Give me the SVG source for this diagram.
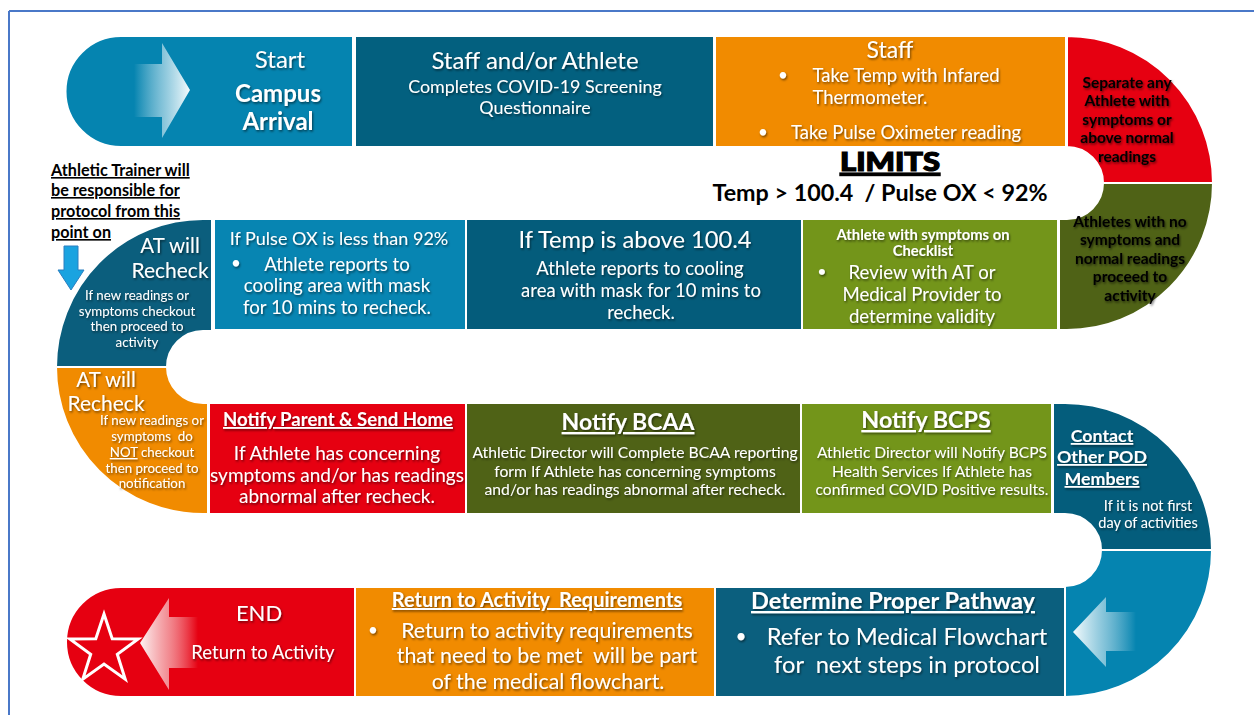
<svg xmlns="http://www.w3.org/2000/svg" width="1254" height="715" viewBox="0 0 1254 715">
<defs>
<style>
text{font-family:Lato,"Open Sans","Liberation Sans",sans-serif;text-anchor:middle;white-space:pre;}
.w{fill:#fff;filter:url(#sh);}
.k{fill:#000;font-weight:bold;filter:url(#shk);}
.b{font-weight:bold;}
.u{text-decoration:underline;}
.cell{stroke:#fff;stroke-width:2;}
</style>
<filter id="sh" x="-10%" y="-30%" width="120%" height="160%"><feDropShadow dx="1" dy="1.5" stdDeviation="1" flood-color="#000" flood-opacity="0.55"/></filter>
<filter id="shk" x="-10%" y="-30%" width="120%" height="160%"><feDropShadow dx="1" dy="1.5" stdDeviation="1.2" flood-color="#000" flood-opacity="0.6"/></filter>
<linearGradient id="gR" x1="0" y1="0" x2="1" y2="0"><stop offset="0" stop-color="#fff" stop-opacity="0"/><stop offset="0.5" stop-color="#d6ecf4" stop-opacity="0.6"/><stop offset="1" stop-color="#f4fbfd"/></linearGradient>
<linearGradient id="gL" x1="1" y1="0" x2="0" y2="0"><stop offset="0" stop-color="#fff" stop-opacity="0"/><stop offset="0.5" stop-color="#d6ecf4" stop-opacity="0.6"/><stop offset="1" stop-color="#f4fbfd"/></linearGradient>
<linearGradient id="gLr" x1="1" y1="0" x2="0" y2="0"><stop offset="0" stop-color="#fff" stop-opacity="0"/><stop offset="0.5" stop-color="#f7c6c8" stop-opacity="0.7"/><stop offset="1" stop-color="#fdf3f3"/></linearGradient>
</defs>
<rect width="1254" height="715" fill="#fff"/>
<g id="frame" fill="none" stroke="#4a78c8" stroke-width="2">
<line x1="9" y1="11" x2="1254" y2="11"/>
<line x1="9" y1="11" x2="9" y2="715"/>
</g>

<g id="connectors"></g>

<!-- Row 1 -->
<g id="start">
<path class="cell" d="M121,36 L353,36 L353,147 L121,147 A55.5,55.5 0 0 1 121,36 Z" fill="#0584b0"/>
<path d="M134,64 L162,64 L162,43 L190,90 L162,138 L162,117 L134,117 Z" fill="url(#gR)"/>
<text class="w" x="280" y="68" font-size="24">Start</text>
<text class="w b" x="278" y="102" font-size="24">Campus</text>
<text class="w b" x="278" y="130" font-size="24">Arrival</text>
</g>
<g id="questionnaire">
<rect class="cell" x="355" y="36" width="359" height="111" fill="#03607f"/>
<text class="w" x="535" y="69" font-size="24">Staff and/or Athlete</text>
<text class="w" x="535" y="93" font-size="17.9">Completes COVID-19 Screening</text>
<text class="w" x="535" y="114" font-size="17.9">Questionnaire</text>
</g>
<g id="staff">
<rect class="cell" x="715" y="36" width="351" height="111" fill="#f18b00"/>
<text class="w" x="890" y="58" font-size="23">Staff</text>
<text class="w" x="783" y="81" font-size="17">•</text>
<text class="w" x="906" y="82" font-size="18.5">Take Temp with Infared</text>
<text class="w" x="870" y="104" font-size="18.5">Thermometer.</text>
<text class="w" x="763" y="138" font-size="17">•</text>
<text class="w" x="906" y="139" font-size="18.5">Take Pulse Oximeter reading</text>
</g>
<g id="separate">
<path class="cell" d="M1067,36 A146,147 0 0 1 1213,183 L1103,183 A36,36 0 0 0 1067,147 Z" fill="#e60011"/>
<text class="k" x="1127" y="88" font-size="15.5">Separate any</text>
<text class="k" x="1127" y="106" font-size="15.5">Athlete with</text>
<text class="k" x="1127" y="125" font-size="15.5">symptoms or</text>
<text class="k" x="1127" y="143" font-size="15.5">above normal</text>
<text class="k" x="1127" y="162" font-size="15.5">readings</text>
</g>
<g id="limits">
<text x="890" y="171" font-size="26" textLength="100" lengthAdjust="spacingAndGlyphs" font-family="'Liberation Sans',sans-serif" font-weight="900" class="u" fill="#000" stroke="#000" stroke-width="1.2">LIMITS</text>
<text x="880" y="201" font-size="23.3" font-weight="bold" fill="#000">Temp &gt; 100.4  / Pulse OX &lt; 92%</text>
</g>

<!-- Row 2 -->
<g id="no-symptoms">
<path class="cell" d="M1059,219 L1067,219 A36,36 0 0 0 1103,183 L1213,183 A146,147 0 0 1 1067,330 L1059,330 Z" fill="#4f6216"/>
<text class="k" x="1130" y="227" font-size="15.5">Athletes with no</text>
<text class="k" x="1130" y="245" font-size="15.5">symptoms and</text>
<text class="k" x="1130" y="264" font-size="15.5">normal readings</text>
<text class="k" x="1130" y="282" font-size="15.5">proceed to</text>
<text class="k" x="1130" y="301" font-size="15.5">activity</text>
</g>
<g id="checklist">
<rect class="cell" x="802" y="219" width="256" height="111" fill="#73951a"/>
<text class="w b" x="923" y="240" font-size="14.8">Athlete with symptoms on</text>
<text class="w b" x="923" y="256" font-size="14.8">Checklist</text>
<text class="w" x="822" y="277" font-size="16">•</text>
<text class="w" x="922" y="279" font-size="18.6">Review with AT or</text>
<text class="w" x="922" y="301" font-size="18.6">Medical Provider to</text>
<text class="w" x="922" y="323" font-size="18.6">determine validity</text>
</g>
<g id="temp">
<rect class="cell" x="466" y="219" width="336" height="111" fill="#045c7b"/>
<text class="w" x="635" y="248" font-size="23.7">If Temp is above 100.4</text>
<text class="w" x="640" y="275" font-size="18.5">Athlete reports to cooling</text>
<text class="w" x="641" y="297" font-size="18.5">area with mask for 10 mins to</text>
<text class="w" x="641" y="319" font-size="18.5">recheck.</text>
</g>
<g id="pulse">
<rect class="cell" x="214" y="219" width="252" height="111" fill="#0785b2"/>
<text class="w" x="339" y="245" font-size="18">If Pulse OX is less than 92%</text>
<text class="w" x="236" y="269" font-size="17">•</text>
<text class="w" x="337" y="271" font-size="18.7">Athlete reports to</text>
<text class="w" x="337" y="292" font-size="18.7">cooling area with mask</text>
<text class="w" x="337" y="314" font-size="18.7">for 10 mins to recheck.</text>
</g>
<g id="at-recheck-1">
<path class="cell" d="M212,219 L203,219 A147,148 0 0 0 56,367 L167,367 A36,36 0 0 1 203,331 L212,331 Z" fill="#0b5e7d"/>
<text class="w" x="170" y="253" font-size="20.5">AT will</text>
<text class="w" x="170" y="278" font-size="21">Recheck</text>
<text class="w" x="137" y="300" font-size="13.3">If new readings or</text>
<text class="w" x="137" y="316" font-size="13.3">symptoms checkout</text>
<text class="w" x="137" y="331" font-size="13.3">then proceed to</text>
<text class="w" x="137" y="347" font-size="13.3">activity</text>
</g>
<g id="trainer-note">
<g font-size="16.2" font-weight="bold" fill="#000" class="u">
<text x="51" y="176" style="text-anchor:start">Athletic Trainer will</text>
<text x="51" y="196" style="text-anchor:start">be responsible for</text>
<text x="51" y="217" style="text-anchor:start">protocol from this</text>
<text x="51" y="238" style="text-anchor:start">point on</text>
</g>
<path d="M64,246 L78,246 L78,270 L84,270 L71,290 L58,270 L64,270 Z" fill="#1aa3e0" stroke="#2a7fc0" stroke-width="1"/>
</g>

<!-- Row 3 -->
<g id="at-recheck-2">
<path class="cell" d="M56,367 A147,147 0 0 0 203,514 L208,514 L208,403 L203,403 A36,36 0 0 1 167,367 Z" fill="#f18b00"/>
<text class="w" x="106" y="387" font-size="20.5">AT will</text>
<text class="w" x="106" y="411" font-size="21">Recheck</text>
<text class="w" x="152" y="425" font-size="13.3">If new readings or</text>
<text class="w" x="152" y="441" font-size="13.3">symptoms  do</text>
<text class="w" x="152" y="457" font-size="13.3"><tspan class="u">NOT</tspan> checkout</text>
<text class="w" x="152" y="473" font-size="13.3">then proceed to</text>
<text class="w" x="152" y="488" font-size="13.3">notification</text>
</g>
<g id="notify-parent">
<rect class="cell" x="209" y="403" width="257" height="111" fill="#e60011"/>
<text class="w b u" x="338" y="426" font-size="18.6">Notify Parent &amp; Send Home</text>
<text class="w" x="337" y="460" font-size="19">If Athlete has concerning</text>
<text class="w" x="337" y="482" font-size="19">symptoms and/or has readings</text>
<text class="w" x="337" y="503" font-size="19">abnormal after recheck.</text>
</g>
<g id="notify-bcaa">
<rect class="cell" x="466" y="403" width="335" height="111" fill="#4f6216"/>
<text class="w b u" x="628" y="430" font-size="23">Notify BCAA</text>
<text class="w" x="635" y="458" font-size="15.7">Athletic Director will Complete BCAA reporting</text>
<text class="w" x="635" y="477" font-size="15.7">form If Athlete has concerning symptoms</text>
<text class="w" x="635" y="495" font-size="15.7">and/or has readings abnormal after recheck.</text>
</g>
<g id="notify-bcps">
<rect class="cell" x="801" y="403" width="251" height="111" fill="#73951a"/>
<text class="w b u" x="926" y="428" font-size="23.3">Notify BCPS</text>
<text class="w" x="932" y="458" font-size="15.6">Athletic Director will Notify BCPS</text>
<text class="w" x="932" y="477" font-size="15.6">Health Services If Athlete has</text>
<text class="w" x="932" y="495" font-size="15.6">confirmed COVID Positive results.</text>
</g>
<g id="contact-pod">
<path class="cell" d="M1053,403 L1065,403 A147,147 0 0 1 1212,550 L1101,550 A36,36 0 0 0 1065,514 L1053,514 Z" fill="#045d7c"/>
<text class="w b u" x="1102" y="442" font-size="17.8">Contact</text>
<text class="w b u" x="1102" y="463" font-size="17.8">Other POD</text>
<text class="w b u" x="1102" y="485" font-size="17.8">Members</text>
<text class="w" x="1148" y="511" font-size="14.5">If it is not first</text>
<text class="w" x="1148" y="528" font-size="14.5">day of activities</text>
</g>

<!-- Row 4 -->
<g id="pathway-turn">
<path class="cell" d="M1101,550 L1212,550 A147,147 0 0 1 1065,697 L1065,586 A36,36 0 0 0 1101,550 Z" fill="#0584b0"/>
<path d="M1136,612 L1106,612 L1106,597 L1073,632 L1106,667 L1106,651 L1136,651 Z" fill="url(#gL)"/>
</g>
<g id="determine">
<rect class="cell" x="715" y="587" width="350" height="110" fill="#0b5f7e"/>
<text class="w b u" x="893" y="609" font-size="23.5">Determine Proper Pathway</text>
<text class="w" x="741" y="643" font-size="19">•</text>
<text class="w" x="907" y="645" font-size="23.7">Refer to Medical Flowchart</text>
<text class="w" x="907" y="673" font-size="23.7">for  next steps in protocol</text>
</g>
<g id="return-req">
<rect class="cell" x="355" y="587" width="360" height="110" fill="#f18b00"/>
<text class="w b u" x="537" y="607" font-size="20">Return to Activity  Requirements</text>
<text class="w" x="373" y="636" font-size="17">•</text>
<text class="w" x="547" y="638" font-size="21.4">Return to activity requirements</text>
<text class="w" x="547" y="663" font-size="21.4">that need to be met  will be part</text>
<text class="w" x="548" y="689" font-size="21.4">of the medical flowchart.</text>
</g>
<g id="end">
<path class="cell" d="M121,587 L355,587 L355,697 L121,697 A55,55 0 0 1 121,587 Z" fill="#e60011"/>
<path d="M198,617 L169,617 L169,598 L140,643 L169,690 L169,668 L198,668 Z" fill="url(#gLr)"/>
<polygon points="104,614 112.2,638.7 138.2,638.9 117.3,654.3 125.2,679.1 104,664 82.8,679.1 90.7,654.3 69.8,638.9 95.8,638.7" fill="#e60011" stroke="#fff" stroke-width="3" stroke-linejoin="miter"/>
<text class="w" x="259" y="621" font-size="22">END</text>
<text class="w" x="263" y="659" font-size="18.5">Return to Activity</text>
</g>
</svg>
